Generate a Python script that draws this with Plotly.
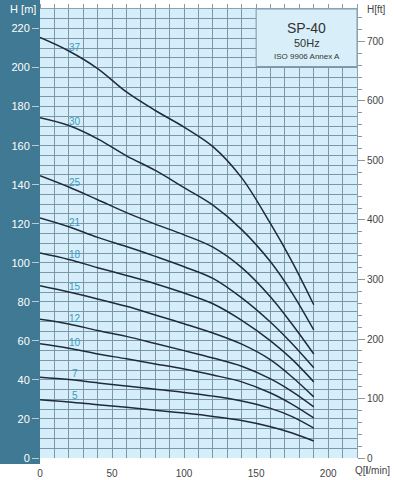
import numpy as np
import plotly.graph_objects as go

# Flow rate sample points [l/min]
Q = [0, 20, 40, 60, 80, 100, 120, 140, 160, 175, 190]

# Head [m] for each stage count
H37 = [215.4, 208.5, 199.5, 187.5, 178.0, 169.5, 159.5, 143.5, 120.0, 100.5, 78.5]
H30 = [174.3, 170.3, 163.5, 154.8, 147.3, 138.5, 129.5, 117.0, 100.5, 84.5, 65.6]
H25 = [144.6, 138.8, 132.3, 125.7, 119.8, 114.3, 108.0, 97.5, 82.5, 68.5, 53.3]
H21 = [123.0, 118.5, 113.0, 108.3, 103.3, 98.0, 92.0, 82.0, 69.5, 58.5, 46.2]
H18 = [105.0, 101.7, 97.5, 93.5, 89.3, 84.5, 79.0, 70.5, 60.0, 50.5, 39.0]
H15 = [88.2, 85.0, 81.5, 77.7, 73.3, 68.8, 64.0, 58.3, 50.3, 41.5, 31.3]
H12 = [71.1, 68.7, 65.3, 62.3, 58.7, 55.0, 51.2, 47.0, 40.5, 34.0, 26.2]
H10 = [58.5, 56.2, 53.3, 50.8, 48.2, 45.6, 42.5, 39.0, 33.3, 27.5, 20.5]
H7 = [41.4, 40.2, 38.5, 36.9, 35.2, 33.6, 31.7, 29.2, 25.4, 21.2, 15.3]
H5 = [29.8, 28.7, 27.3, 26.0, 24.5, 23.0, 21.3, 19.2, 16.0, 12.8, 8.7]

stages = ["37", "30", "25", "21", "18", "15", "12", "10", "7", "5"]
series = [H37, H30, H25, H21, H18, H15, H12, H10, H7, H5]

x_ticks = [0, 50, 100, 150, 200]
y_ticks = list(range(0, 221, 20))
ft_ticks = list(range(0, 701, 100))

Q_MAX = 220
H_MAX = 230
FT_PER_M = 1 / 0.3048

FONT = "Liberation Sans, Arial, sans-serif"
GRID = "#7b97a8"
CURVE = "#1f2b3b"
LABEL = "#3a9cc0"
BAND = "#3f7993"

fig = go.Figure()

for name, h in zip(stages, series):
    fig.add_trace(go.Scatter(
        x=Q, y=h, mode="lines", name=name,
        line=dict(color=CURVE, width=1.5, shape="spline", smoothing=1.0),
        hoverinfo="skip", showlegend=False,
    ))

# invisible trace to activate secondary axes
fig.add_trace(go.Scatter(x=[0, Q_MAX], y=[0, H_MAX * FT_PER_M], xaxis="x2", yaxis="y2",
                         mode="markers", marker=dict(opacity=0), showlegend=False, hoverinfo="skip"))

annotations = []
for name, h in zip(stages, series):
    yv = float(np.interp(24.5, Q, h))
    annotations.append(dict(x=24.5, y=yv, xref="x", yref="y", text=name, showarrow=False,
                            yshift=7, font=dict(family=FONT, size=10, color=LABEL)))

annotations += [
    dict(xref="paper", yref="paper", x=-40 / 317, y=1 + 9.5 / 448.5, xanchor="left", yanchor="top",
         text="&nbsp;&nbsp;H [m]", showarrow=False, xshift=2, yshift=-2,
         font=dict(family=FONT, size=11, color="white")),
    dict(xref="paper", yref="paper", x=1, y=1 + 9.5 / 448.5, xanchor="left", yanchor="top",
         text="H[ft]", showarrow=False, xshift=8, yshift=-3,
         font=dict(family=FONT, size=10, color="#444")),
    dict(xref="paper", yref="paper", x=1, y=0, xanchor="left", yanchor="top",
         text="Q[<b>l</b>/min]", showarrow=False, xshift=-4, yshift=-5,
         font=dict(family=FONT, size=10, color="#444")),
    dict(x=185, y=(458 - 28) / 1.95, xref="x", yref="y", text="SP-40", showarrow=False,
         font=dict(family=FONT, size=14, color="#333")),
    dict(x=185, y=(458 - 43) / 1.95, xref="x", yref="y", text="50Hz", showarrow=False,
         font=dict(family=FONT, size=11, color="#333")),
    dict(x=185, y=(458 - 57) / 1.95, xref="x", yref="y", text="ISO 9906 Annex A", showarrow=False,
         font=dict(family=FONT, size=8, color="#333")),
]

shapes = [
    dict(type="rect", xref="paper", yref="paper", x0=-40 / 317, x1=0,
         y0=-6 / 448.5, y1=1 + 12 / 448.5, fillcolor=BAND, line=dict(width=0), layer="below"),
    dict(type="rect", xref="x", yref="y", x0=150, x1=220, y0=(458 - 67) / 1.95, y1=H_MAX,
         fillcolor="#d8effa", line=dict(color="#7f9aab", width=1), layer="above"),
]

fig.update_layout(
    width=394, height=480,
    margin=dict(l=40, r=37, t=9, b=22, pad=0, autoexpand=False),
    paper_bgcolor="white", plot_bgcolor="#d6eef9",
    font=dict(family=FONT, size=11, color="#444"),
    showlegend=False,
    annotations=annotations, shapes=shapes,
    xaxis=dict(range=[0, Q_MAX], tickvals=x_ticks, ticks="outside", ticklen=6,
               tickcolor="rgba(0,0,0,0)", showgrid=True, gridcolor=GRID, gridwidth=1,
               minor=dict(dtick=10, tick0=0, showgrid=True, gridcolor=GRID, gridwidth=1),
               zeroline=False, showline=False, fixedrange=True, automargin=False,
               tickfont=dict(family=FONT, size=10, color="#444")),
    xaxis2=dict(range=[0, Q_MAX], overlaying="x", side="top", dtick=10, tick0=0,
                ticks="outside", ticklen=4, tickcolor="#8a9aa5", showticklabels=False,
                showgrid=False, zeroline=False, showline=True, linecolor="#8aa3b3",
                automargin=False),
    yaxis=dict(range=[0, H_MAX], tickvals=y_ticks, ticks="outside", ticklen=7,
               tickcolor="#b9ccd6", showgrid=True, gridcolor=GRID, gridwidth=1,
               minor=dict(dtick=5, tick0=0, showgrid=True, gridcolor=GRID, gridwidth=1),
               zeroline=False, showline=False, automargin=False,
               tickfont=dict(family=FONT, size=11, color="white")),
    yaxis2=dict(range=[0, H_MAX * FT_PER_M], overlaying="y", side="right", anchor="x2",
                tickvals=ft_ticks, ticks="outside", ticklen=7, tickcolor="#8a9aa5",
                minor=dict(dtick=20, tick0=0, ticks="outside", ticklen=4, tickcolor="#8a9aa5"),
                showgrid=False, zeroline=False, showline=True, linecolor="#8aa3b3",
                automargin=False,
                tickfont=dict(family=FONT, size=10, color="#444")),
)

fig.write_html("out.html", config={"displayModeBar": False},
               post_script="document.body.style.margin='0';document.body.style.overflow='hidden';")
